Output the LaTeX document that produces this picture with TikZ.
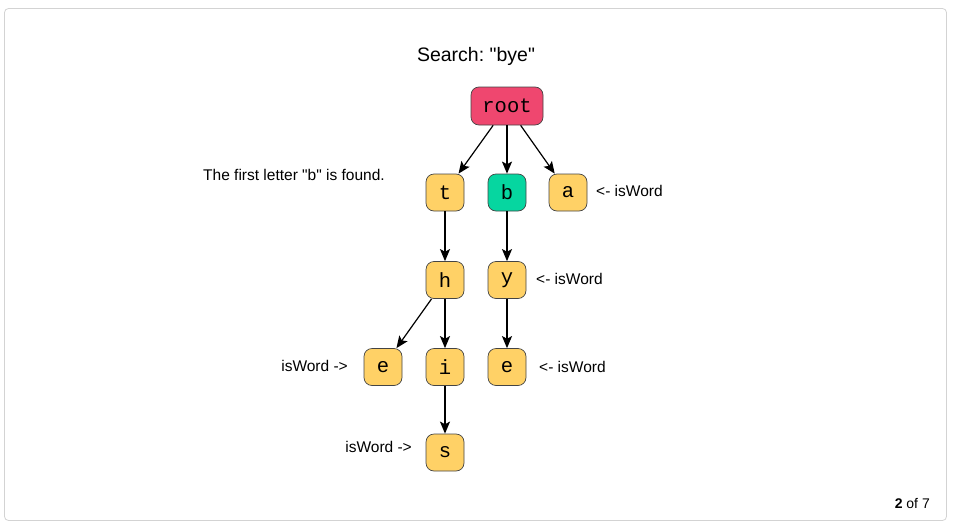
\documentclass[tikz,border=0pt]{standalone}
\usepackage{fontspec}
\setmainfont{Liberation Sans}[Ligatures=TeXOff]
\newfontfamily\monofont{Liberation Mono}[Ligatures=TeXOff]
\usetikzlibrary{arrows.meta}
\frenchspacing
\definecolor{rootc}{HTML}{EF476F}
\definecolor{yelc}{HTML}{FFD166}
\definecolor{grnc}{HTML}{06D6A0}
\definecolor{framec}{HTML}{D3D3D3}
\definecolor{bordc}{HTML}{444444}
\tikzset{
  trie/.style={draw=bordc, line width=0.7pt, rounded corners=8pt, inner sep=0pt,
    minimum width=38pt, minimum height=37pt, font=\monofont\fontsize{20.5}{20}\selectfont, fill=yelc},
  lbl/.style={font=\fontsize{15.5}{16}\selectfont, inner sep=0pt},
  edge/.style={-{Stealth[length=12pt,width=10pt,inset=2.5pt]}, line width=1.2pt, black}
}
\begin{document}
\begin{tikzpicture}[x=1pt,y=-1pt]
\useasboundingbox (0,0) rectangle (953,525);
\draw[framec, line width=0.8pt, rounded corners=4pt] (4.5,8.5) rectangle (946.5,520.5);
\node[font=\fontsize{19.5}{20}\selectfont\frenchspacing, inner sep=0pt] (title) at (476,56) {Search: "bye"};
\node[trie, fill=rootc, minimum width=72pt, minimum height=38pt] (root) at (507,106) {root};
\node[trie] (t) at (445,192.5) {t};
\node[trie, fill=grnc] (b) at (507,192.5) {b};
\node[trie] (a) at (568,192.5) {a};
\node[trie] (h) at (445,280) {h};
\node[trie] (y) at (507,280) {y};
\node[trie] (e1) at (383,367) {e};
\node[trie] (i) at (445,367) {i};
\node[trie] (e2) at (507,367) {e};
\node[trie] (s) at (445,452.5) {s};
\draw[edge] (root) -- (t);
\draw[edge] (root) -- (b);
\draw[edge] (root) -- (a);
\draw[edge] (t) -- (h);
\draw[edge] (b) -- (y);
\draw[edge] (h) -- (e1);
\draw[edge] (h) -- (i);
\draw[edge] (y) -- (e2);
\draw[edge] (i) -- (s);
\node[lbl, anchor=west] (found) at (203,175) {The first letter "b" is found.};
\node[lbl, anchor=west] (wa) at (596,191) {<- isWord};
\node[lbl, anchor=west] (wy) at (536,279) {<- isWord};
\node[lbl, anchor=east] (we1) at (348,366) {isWord ->};
\node[lbl, anchor=west] (we2) at (539,367) {<- isWord};
\node[lbl, anchor=east] (ws) at (412,447) {isWord ->};
\node[font=\fontsize{14}{14}\selectfont, anchor=east, inner sep=0pt] (page) at (930,503.5) {\textbf{2} of 7};
\end{tikzpicture}
\end{document}
